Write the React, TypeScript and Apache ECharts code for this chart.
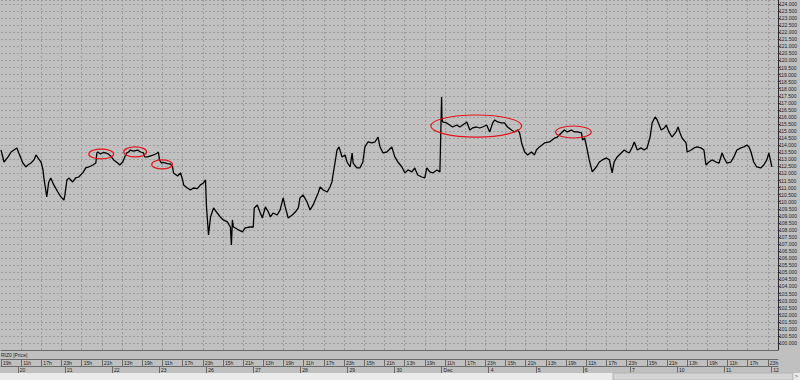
import React, { useEffect, useRef } from 'react';
import * as echarts from 'echarts';

// session hours since Nov 19, 19:00 (session 10:00-24:00, 14 h per day)
const hours = [
  0, 0.9, 2.1, 3.0, 4.7, 5.3, 6.5, 7.4, 8.0, 8.9, 9.8, 10.4,
  11.0, 11.9, 12.5, 12.7, 13.3, 13.6, 14.2, 14.8, 15.7, 16.9, 17.8, 18.7,
  19.0, 19.6, 20.2, 21.3, 22.2, 23.1, 24.3, 25.2, 26.1, 27.3, 28.2, 28.5,
  28.8, 29.6, 30.5, 31.7, 32.6, 33.5, 34.7, 35.3, 36.2, 36.8, 37.4, 37.9,
  38.5, 39.4, 40.6, 41.5, 42.4, 42.7, 43.6, 44.5, 45.4, 46.5, 46.8, 47.1,
  47.7, 48.3, 49.5, 50.4, 51.0, 51.3, 52.5, 53.4, 54.0, 54.3, 55.4, 56.3,
  57.2, 58.4, 59.3, 60.2, 60.8, 61.1, 61.7, 62.3, 63.2, 64.3, 65.2, 66.1,
  67.3, 68.2, 68.5, 68.8, 69.1, 69.7, 70.6, 71.8, 72.6, 74.1, 75.0, 75.3,
  76.2, 77.1, 77.7, 78.6, 79.5, 80.1, 80.9, 82.1, 83.0, 83.9, 84.5, 85.4,
  86.6, 87.5, 88.4, 88.9, 89.8, 91.0, 91.9, 92.8, 94.3, 94.9, 95.8, 97.0,
  97.8, 98.4, 98.7, 99.3, 99.9, 100.5, 101.4, 102.3, 102.9, 103.8, 104.4, 104.7,
  105.8, 106.7, 107.6, 108.2, 109.1, 110.3, 111.2, 112.1, 112.7, 113.6, 114.7, 116.2,
  117.1, 118.0, 119.2, 120.1, 121.0, 122.2, 123.0, 123.9, 125.1, 126.0, 126.6, 127.5,
  128.4, 129.6, 130.5, 131.0, 131.1, 131.3, 132.5, 133.4, 134.3, 135.5, 136.4, 137.3,
  138.5, 139.4, 140.2, 141.4, 142.3, 143.2, 144.4, 145.3, 146.2, 146.8, 147.7, 148.8,
  149.7, 150.6, 151.8, 152.7, 153.6, 154.2, 154.8, 155.7, 156.6, 157.7, 158.6, 159.2,
  160.1, 161.6, 163.1, 164.6, 165.4, 166.6, 167.5, 168.4, 169.6, 170.5, 171.4, 172.6,
  172.9, 173.5, 174.0, 174.9, 175.8, 177.0, 177.9, 178.8, 180.0, 180.9, 181.7, 182.3,
  183.2, 184.4, 185.3, 186.2, 186.8, 187.7, 188.3, 189.2, 190.3, 191.2, 192.1, 193.0,
  193.6, 194.5, 195.1, 196.3, 197.2, 197.8, 198.6, 199.5, 200.7, 201.3, 201.9, 202.5,
  203.7, 204.0, 205.2, 206.1, 206.9, 208.1, 209.0, 209.6, 210.5, 211.4, 212.6, 213.5,
  214.4, 215.0, 215.8, 217.0, 217.9, 218.8, 220.0, 220.9, 221.8, 222.4, 223.0, 223.8,
  224.7, 225.9, 226.8, 227.7, 228.3, 228.9, 229.2,
];

const prices = [
  113.66, 112.81, 113.17, 113.52, 113.81, 113.45, 112.74, 112.46, 112.60, 112.74, 112.96, 113.31,
  113.10, 112.81, 112.25, 111.75, 110.83, 110.34, 111.40, 111.68, 111.19, 110.69, 110.34, 110.12,
  110.48, 111.54, 111.68, 111.40, 111.68, 111.75, 112.04, 112.39, 112.46, 112.60, 112.74, 113.45,
  113.52, 113.38, 113.50, 113.41, 113.24, 112.96, 112.74, 112.60, 112.81, 113.17, 113.45, 113.52,
  113.66, 113.59, 113.66, 113.52, 113.45, 113.17, 113.17, 113.24, 113.31, 113.45, 113.52, 112.96,
  112.74, 112.78, 112.70, 112.67, 112.46, 112.04, 111.82, 112.04, 111.54, 111.19, 110.97, 110.83,
  110.97, 110.93, 111.19, 111.33, 111.54, 109.63, 107.65, 108.92, 109.56, 109.20, 108.92, 108.71,
  108.57, 108.21, 106.94, 108.71, 108.21, 108.14, 108.00, 107.86, 108.14, 108.21, 108.21, 109.56,
  109.77, 109.20, 108.85, 109.63, 109.27, 108.92, 109.20, 109.06, 109.42, 110.27, 109.63, 108.85,
  109.06, 109.27, 109.56, 110.27, 110.48, 109.98, 109.42, 109.77, 110.62, 111.04, 110.83, 110.69,
  111.04, 111.40, 111.89, 112.74, 113.66, 113.88, 113.17, 113.31, 112.81, 112.46, 113.45, 112.74,
  112.39, 112.39, 112.81, 113.88, 114.23, 114.16, 114.23, 114.58, 113.88, 113.45, 113.52, 113.88,
  113.17, 112.81, 112.46, 112.04, 112.25, 112.11, 112.39, 111.89, 111.75, 111.68, 112.39, 112.11,
  112.04, 112.25, 112.11, 117.42, 115.93, 115.65, 115.58, 115.43, 115.29, 115.43, 115.29, 115.43,
  115.65, 115.08, 115.22, 115.29, 115.22, 115.29, 115.43, 114.94, 115.58, 115.79, 115.65, 115.58,
  115.58, 115.29, 115.08, 114.94, 115.08, 114.87, 114.16, 113.52, 113.31, 113.52, 113.31, 113.66,
  113.88, 114.16, 114.23, 114.51, 114.58, 114.87, 115.08, 114.94, 115.08, 114.94, 114.94, 114.87,
  114.37, 114.51, 114.02, 112.96, 112.11, 112.46, 112.81, 112.96, 113.10, 112.96, 112.04, 112.81,
  113.17, 113.45, 113.66, 113.52, 113.45, 113.88, 114.23, 113.66, 113.81, 113.66, 113.81, 114.58,
  115.58, 116.00, 115.79, 115.08, 115.22, 115.43, 114.94, 114.58, 114.94, 115.29, 114.87, 114.51,
  114.16, 113.52, 113.66, 113.81, 113.88, 113.81, 113.66, 112.60, 112.81, 112.96, 112.81, 112.74,
  113.45, 113.10, 112.74, 112.81, 113.17, 113.66, 113.81, 113.88, 114.02, 113.88, 113.52, 112.81,
  112.46, 112.39, 112.60, 112.96, 113.45, 112.81, 112.46,
];

const hourTickLabels = [
  '19h', '11h', '17h', '23h', '15h', '21h', '13h',
  '19h', '11h', '17h', '23h', '15h', '21h', '13h',
  '19h', '11h', '17h', '23h', '15h', '21h', '13h',
  '19h', '11h', '17h', '23h', '15h', '21h', '13h',
  '19h', '11h', '17h', '23h', '15h', '21h', '13h',
  '19h', '11h', '17h', '23h',
];

const dayStarts = [5, 19, 33, 47, 61, 75, 89, 103, 117, 131, 145, 159, 173, 187, 201, 215, 229];
const dayLabels = ['20', '21', '22', '23', '26', '27', '28', '29', '30', 'Dec', '4', '5', '6', '7', '10', '11', '12'];

// hand-drawn highlight ellipses, in data coordinates [hour0, hour1] / [price0, price1]
const highlightHours = [[26.1, 33.5], [36.5, 43.3], [44.8, 51.0], [127.8, 154.8], [164.9, 175.5]];
const highlightPrices = [[113.73, 113.03], [113.88, 113.17], [112.96, 112.32], [116.14, 114.58], [115.36, 114.51]];

const instrumentTitle = 'RIZ0 [Price]';

export default function App() {
  const ref = useRef<HTMLDivElement>(null);

  useEffect(() => {
    document.body.style.margin = '0';
    const chart = echarts.init(ref.current as HTMLDivElement, null, { renderer: 'svg' });
    const data = hours.map((h, i) => [h, prices[i]]);
    const last = prices[prices.length - 1];
    const font = '"Liberation Sans", Arial, sans-serif';
    const textColor = '#1e1e1e';
    const gridDash = { color: '#9c9c9c', type: [2, 2] as number[], width: 1 };

    chart.setOption({
      animation: false,
      backgroundColor: '#c0c0c0',
      textStyle: { fontFamily: font },
      title: {
        text: instrumentTitle,
        left: 1,
        top: 352,
        padding: 0,
        textStyle: { fontSize: 5, fontWeight: 'normal', color: textColor, fontFamily: font },
      },
      grid: { left: 0, right: 21, top: 0, bottom: 30, containLabel: false },
      xAxis: [
        {
          type: 'value',
          min: 0,
          max: 231,
          interval: 6,
          position: 'bottom',
          offset: 9,
          axisLine: { show: true, onZero: false, lineStyle: { color: '#6a6a6a', width: 1 } },
          axisTick: { show: true, length: 7, lineStyle: { color: '#6a6a6a', width: 1 } },
          axisLabel: {
            show: true,
            showMaxLabel: false,
            align: 'left',
            margin: 1,
            padding: [0, 0, 0, 2],
            fontSize: 5,
            color: textColor,
            formatter: (v: number) => hourTickLabels[Math.round(v / 6)] ?? '',
          },
          splitLine: { show: true, showMinLine: false, showMaxLine: false, lineStyle: gridDash },
        },
        {
          type: 'value',
          min: 0,
          max: 231,
          position: 'bottom',
          offset: 16,
          axisLine: { show: true, onZero: false, lineStyle: { color: '#6a6a6a', width: 1 } },
          axisTick: { show: true, length: 7, customValues: dayStarts, lineStyle: { color: '#6a6a6a', width: 1 } },
          axisLabel: {
            show: true,
            customValues: dayStarts,
            align: 'left',
            margin: 1,
            padding: [0, 0, 0, 2],
            fontSize: 5,
            color: textColor,
            formatter: (v: number) => {
              const i = dayStarts.indexOf(v);
              return i >= 0 ? dayLabels[i] : '';
            },
          },
          splitLine: { show: false },
        },
        {
          type: 'value',
          min: 0,
          max: 231,
          position: 'bottom',
          offset: 0,
          axisLine: { show: true, onZero: false, lineStyle: { color: '#6a6a6a', width: 1 } },
          axisTick: { show: false },
          axisLabel: { show: false },
          splitLine: { show: false },
        },
      ],
      yAxis: {
        type: 'value',
        position: 'right',
        min: 99.5,
        max: 124.283,
        interval: 0.5,
        axisLine: { show: true, onZero: false, lineStyle: { color: '#2a2a2a', width: 1 } },
        axisTick: { show: true, length: 2, lineStyle: { color: '#2a2a2a', width: 1 } },
        axisLabel: {
          showMinLabel: false,
          showMaxLabel: false,
          margin: 1,
          fontSize: 5,
          color: textColor,
          formatter: (v: number) => v.toFixed(3),
        },
        splitLine: { show: true, lineStyle: gridDash },
      },
      series: [
        {
          type: 'line',
          data,
          xAxisIndex: 0,
          yAxisIndex: 0,
          symbol: 'none',
          showSymbol: false,
          lineStyle: { color: '#000000', width: 1.3 },
          markLine: {
            silent: true,
            symbol: 'none',
            lineStyle: { opacity: 0 },
            label: {
              position: 'end',
              distance: 2,
              formatter: last.toFixed(3),
              color: '#e00000',
              fontSize: 5,
              fontFamily: font,
            },
            data: [{ yAxis: last }],
          },
        },
      ],
    });

    const ellipses = highlightHours.map((hh, i) => {
      const pp = highlightPrices[i];
      const a = chart.convertToPixel({ seriesIndex: 0 }, [hh[0], pp[0]]) as number[];
      const b = chart.convertToPixel({ seriesIndex: 0 }, [hh[1], pp[1]]) as number[];
      return {
        type: 'ellipse',
        z: 20,
        shape: {
          cx: (a[0] + b[0]) / 2,
          cy: (a[1] + b[1]) / 2,
          rx: Math.abs(b[0] - a[0]) / 2,
          ry: Math.abs(b[1] - a[1]) / 2,
        },
        style: { fill: 'none', stroke: '#e5141c', lineWidth: 1.2 },
      };
    });

    chart.setOption({
      graphic: [
        { type: 'rect', z: 5, shape: { x: 0, y: 373, width: 800, height: 7 }, style: { fill: '#ebebeb' } },
        { type: 'rect', z: 6, shape: { x: 613, y: 373, width: 180, height: 7 }, style: { fill: '#d4d4d4', stroke: '#b4b4b4', lineWidth: 1 } },
        { type: 'text', z: 7, x: 795, y: 373, style: { text: '>', fontSize: 5, fill: '#404040', fontFamily: font } },
        ...ellipses,
      ],
    });

    return () => chart.dispose();
  }, []);

  return <div ref={ref} style={{ width: 800, height: 380 }} />;
}
